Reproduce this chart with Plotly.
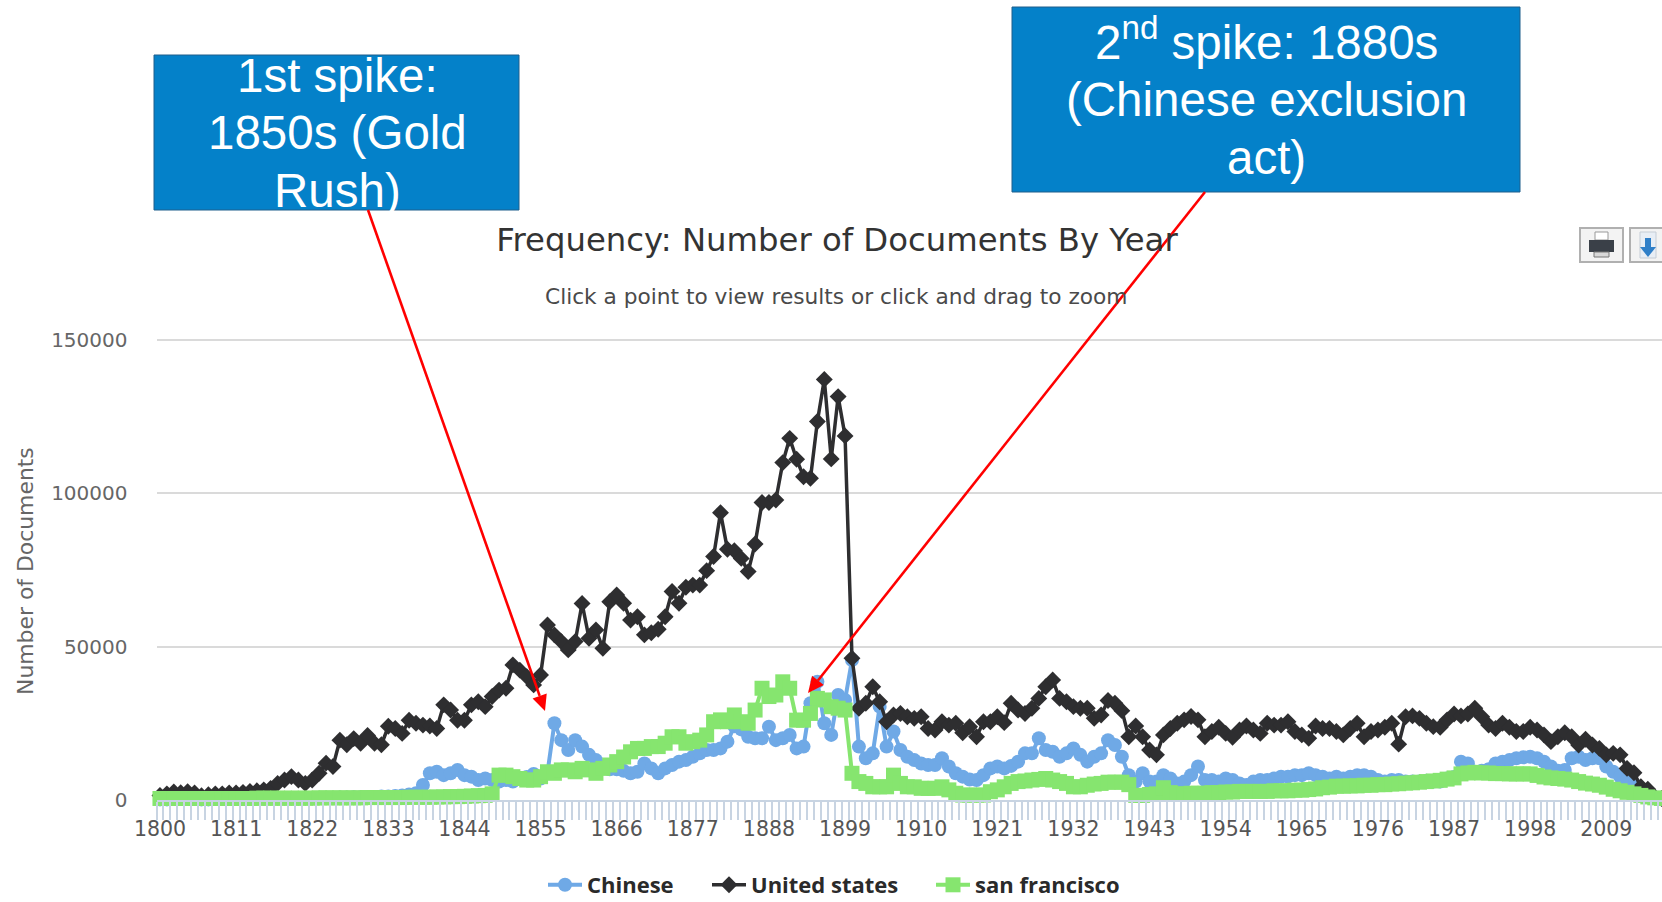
import math
import plotly.graph_objects as go

years = list(range(1800, 2018))

chinese = [
    200,200,300,300,300,300,200,200,300,300,
    300,300,300,400,400,400,500,500,500,500,
    500,600,600,700,700,700,800,800,900,900,
    1000,1000,1100,1100,1300,1500,1800,2200,4900,8700,
    9200,8100,8700,9800,8100,7600,6500,7000,6500,6000,
    6500,6000,7000,7500,8500,7000,9000,25000,19500,16300,
    19500,17400,14700,13000,10900,10000,10000,9500,8700,9200,
    11900,10300,8700,10300,11400,12500,13000,14100,15200,16300,
    16300,16800,19000,24000,23000,20600,20100,20100,23900,19500,
    20100,21200,16800,17400,31500,38500,25000,21200,34200,32600,
    45600,17400,13600,15200,30400,17400,22300,16300,14100,13000,
    11900,11400,11400,13600,10900,8700,7600,6700,6500,8100,
    10300,10900,10300,11100,12500,15200,15200,20100,16300,15700,
    14100,15200,16800,14700,12500,14100,15200,19500,17900,14100,
    8100,6000,8700,6000,6000,8100,7000,5400,6000,8100,
    10900,6500,6500,6000,7000,6500,5400,4900,6000,6500,
    6500,7000,7600,7600,8100,8100,8700,8100,7600,7000,
    7600,7000,7600,8100,8100,7600,6500,6000,6500,6500,
    6000,6000,6000,6300,6000,6000,7000,7500,12500,11900,
    9200,9500,10000,11900,12500,13000,13600,13900,14100,13600,
    12500,10900,9500,9800,13600,14100,13000,13600,13600,10900,
    9200,7600,6500,4900,2800,1500,800,400,
]

united_states = [
    1500,2000,2600,2400,2700,2300,1400,1700,2000,2000,
    2300,2300,2500,2800,3000,3300,3800,5400,6500,7600,
    6500,5400,6500,8700,12000,10900,19500,18000,20000,18500,
    21000,18500,18000,24000,23300,21700,26000,25000,24400,24100,
    23300,31000,29300,26000,26000,31000,32000,30400,33700,35800,
    36400,44000,42300,40200,37500,40700,57000,53800,51600,48900,
    51600,64000,52700,55400,49400,64600,66800,64100,58600,59700,
    53800,54500,55600,59700,67900,64100,69300,70000,70000,74700,
    79300,93600,81700,81200,78700,74400,83400,96900,96900,97700,
    109900,117800,111000,105300,104800,123300,137000,111100,131400,118600,
    46200,29900,31500,36900,32000,25500,27700,28200,27100,26600,
    27100,23300,22800,25500,24400,25000,21900,23900,20600,25500,
    25500,27100,25200,31500,29300,28200,29900,33100,36900,39100,
    33100,32000,30400,29900,29900,26600,27700,32400,31500,29100,
    20600,24100,20600,16300,14700,21200,23300,25000,26100,27200,
    26100,20600,22300,23700,21700,20400,22800,24100,22800,21700,
    25000,24400,24400,25500,22300,21200,20100,24100,23300,23300,
    22300,21200,23300,25000,20600,22300,22800,23700,25000,18200,
    27100,27400,26600,25000,23900,23700,26100,28000,27400,28000,
    29900,27100,24400,23300,25000,23700,22300,22300,23700,22800,
    21200,19000,20600,21900,20600,17900,19800,17900,16800,14700,
    15200,14700,10300,8900,4300,3500,1000,500,
]

san_francisco = [
    500,500,500,500,500,500,500,500,500,500,
    500,500,500,500,600,600,600,600,600,600,
    600,600,600,700,700,700,700,700,700,700,
    800,800,800,800,800,800,900,900,900,900,
    1000,1000,1100,1100,1200,1300,1400,1500,2000,8100,
    8100,7600,7000,6500,6500,7600,9200,8700,9800,9800,
    9200,10300,9800,8700,10300,11400,12500,14000,15700,16800,
    16800,17400,17400,18500,20600,20600,18500,19000,19500,21200,
    25500,26100,25500,27700,25500,25000,29300,36400,33700,34200,
    38500,36400,26000,26000,28200,33100,32600,30400,29900,29300,
    8700,6000,5400,4300,4300,4300,8100,5400,4300,4300,
    3800,3800,3800,4300,3300,2200,1600,1600,1600,1600,
    2700,3300,4300,5400,6000,6200,6500,6700,7000,6500,
    6000,5400,4300,4300,4800,5200,5400,5800,5800,5800,
    5000,1500,1500,1800,2000,4000,2400,2000,2000,2200,
    2200,2200,2400,2400,2600,2600,2800,2800,2800,2800,
    2800,3000,3000,3000,3200,3200,3400,3600,4000,4200,
    4500,4500,4600,4600,4800,4800,5000,5000,5200,5300,
    5500,5600,5800,6000,6200,6400,6800,7200,8500,8800,
    9000,8800,8800,8600,8600,8500,8500,8500,8500,8000,
    7500,7200,7000,6800,6500,6000,5500,5200,4800,4200,
    3500,3000,2500,2000,1500,1000,700,500,
]

y_ticks = [0, 50000, 100000, 150000]
x_tick_years = list(range(1800, 2018, 11))

W, H = 1662, 902
L, T, B = 156.5, 320.0, 800.0
PX_PER_DOC = 153.5 / 50000
Y_TOP = (B - T) / PX_PER_DOC


def fx(x):
    return x / W


def fy(y):
    return 1 - y / H


FONT = "DejaVu Sans"
BOX = "#0481C9"
RED = "#FF0000"


def rect(x0, x1, y0, y1, fill, line=None, width=0):
    return dict(type="rect", xref="paper", yref="paper", x0=fx(x0), x1=fx(x1), y0=fy(y0), y1=fy(y1),
                fillcolor=fill, line=dict(color=line, width=width) if line else dict(width=0))


def arrow(sx, sy, tx, ty, length=16, half=7.5):
    d = math.hypot(tx - sx, ty - sy)
    ux, uy = (tx - sx) / d, (ty - sy) / d
    bx, by = tx - ux * length, ty - uy * length
    px, py = -uy * half, ux * half
    return [
        dict(type="line", xref="paper", yref="paper", x0=fx(sx), y0=fy(sy), x1=fx(bx), y1=fy(by),
             line=dict(color=RED, width=2.6)),
        dict(type="path", xref="paper", yref="paper",
             path=f"M {fx(tx)} {fy(ty)} L {fx(bx + px)} {fy(by + py)} L {fx(bx - px)} {fy(by - py)} Z",
             fillcolor=RED, line=dict(width=0)),
    ]


fig = go.Figure()
fig.add_trace(go.Scatter(
    x=years, y=chinese, name="Chinese", mode="lines+markers", cliponaxis=False, legend="legend",
    line=dict(color="#6FA9E6", width=4),
    marker=dict(symbol="circle", size=14, color="#6FA9E6"),
))
fig.add_trace(go.Scatter(
    x=years, y=united_states, name="United states", mode="lines+markers", cliponaxis=False, legend="legend2",
    line=dict(color="#2E2E30", width=3.5),
    marker=dict(symbol="diamond", size=13, color="#2E2E30"),
))
fig.add_trace(go.Scatter(
    x=years, y=san_francisco, name="san francisco", mode="lines+markers", cliponaxis=False, legend="legend3",
    line=dict(color="#86E56F", width=4),
    marker=dict(symbol="square", size=15, color="#86E56F"),
))

shapes = [
    rect(154, 519, 55, 210, BOX, "#1F5E8C", 1),
    rect(1012, 1520, 7, 192, BOX, "#1F5E8C", 1),
    rect(1580, 1623, 228, 262, "#F3F3F3", "#B0B0B0", 2),
    rect(1630, 1672, 228, 262, "#F3F3F3", "#B0B0B0", 2),
    rect(1595, 1608, 232, 240, "#FFFFFF", "#999999", 1),
    rect(1589, 1614, 240, 252, "#3A4048"),
    rect(1594, 1609, 252, 257, "#D8D8D8", "#777777", 1),
    rect(1640, 1656, 232, 258, "#E8EEF5", "#C5CDD6", 1),
    rect(1645, 1651, 238, 248, "#2F7FC8"),
    dict(type="path", xref="paper", yref="paper",
         path=f"M {fx(1640)} {fy(247)} L {fx(1656)} {fy(247)} L {fx(1648)} {fy(257)} Z",
         fillcolor="#2F7FC8", line=dict(width=0)),
]
shapes += arrow(368, 210, 545, 711)
shapes += arrow(1205, 192, 808, 693)


def box_line(text, x, y):
    return dict(text=text, xref="paper", yref="paper", x=fx(x), y=fy(y), xanchor="center", yanchor="middle",
                showarrow=False, font=dict(family="Liberation Sans", size=47.5, color="#FFFFFF"))


annotations = [
    dict(text="Click a point to view results or click and drag to zoom", xref="paper", yref="paper",
         x=fx(836), y=fy(296), xanchor="center", yanchor="middle", showarrow=False,
         font=dict(family=FONT, size=21.7, color="#4A4A4A")),
    dict(text="Number of Documents", xref="paper", yref="paper", x=fx(25), y=fy(571), textangle=-90,
         xanchor="center", yanchor="middle", showarrow=False,
         font=dict(family=FONT, size=21.9, color="#666666")),
    box_line("1st spike:", 337, 76),
    box_line("1850s (Gold", 337, 132),
    box_line("Rush)", 337, 190),
    box_line("2<sup>nd</sup> spike: 1880s", 1266, 39),
    box_line("(Chinese exclusion", 1266, 100),
    box_line("act)", 1266, 157),
]


def legend_at(px):
    return dict(orientation="h", x=fx(px), xanchor="left", y=fy(885), yanchor="middle",
                font=dict(family="Open Sans", size=22, color="#2A2A2A", weight="bold"),
                itemwidth=34, bgcolor="rgba(0,0,0,0)")


fig.update_layout(
    width=W, height=H, autosize=False,
    margin=dict(l=0, r=0, t=0, b=0, pad=0, autoexpand=False),
    paper_bgcolor="#FFFFFF", plot_bgcolor="#FFFFFF",
    font=dict(family=FONT, color="#555555"),
    title=dict(text="Frequency: Number of Documents By Year", x=837 / W, xanchor="center",
               y=1 - 240 / H, yanchor="middle", font=dict(family=FONT, size=32.3, color="#333333")),
    showlegend=True,
    legend=legend_at(543), legend2=legend_at(707), legend3=legend_at(931),
    xaxis=dict(
        domain=[L / W, 1],
        range=[1799.5, 2017.05], tickmode="array", tickvals=x_tick_years,
        ticktext=[str(v) for v in x_tick_years], ticks="outside", ticklen=9, tickcolor="rgba(0,0,0,0)",
        tickfont=dict(family=FONT, size=20.5, color="#555555"),
        showgrid=False, zeroline=False, showline=True, linecolor="#C8D4E2", linewidth=2,
        minor=dict(tick0=1799.5, dtick=1, ticks="outside", ticklen=18, tickcolor="#C8D4E2", tickwidth=1.5, showgrid=False),
    ),
    yaxis=dict(
        domain=[1 - B / H, 1 - T / H],
        range=[0, Y_TOP], tickmode="array", tickvals=y_ticks, tickformat="d",
        ticks="outside", ticklen=24, tickcolor="rgba(0,0,0,0)",
        tickfont=dict(family=FONT, size=20, color="#666666"),
        showgrid=True, gridcolor="#DADADA", gridwidth=2, zeroline=False, showline=False,
    ),
    shapes=shapes, annotations=annotations,
)

fig.write_html("out.html", config=dict(displayModeBar=False),
               post_script="document.body.style.margin='0';document.body.style.overflow='hidden';")
